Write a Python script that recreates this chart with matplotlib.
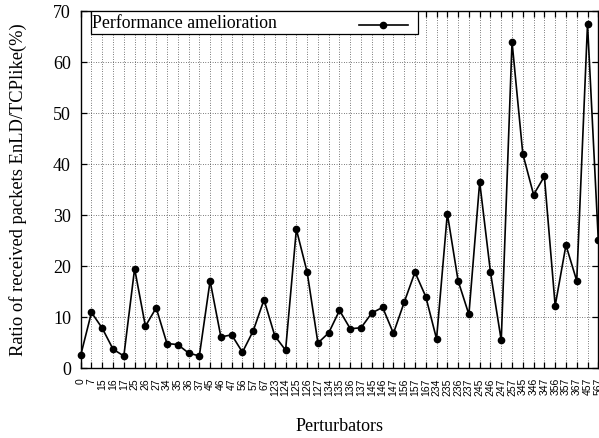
import matplotlib
matplotlib.use("Agg")
import matplotlib.pyplot as plt
from matplotlib.patches import Rectangle
from matplotlib.lines import Line2D

# Perturbator sets (node combinations) and the measured ratio per set
perturbators = ["0", "7", "15", "16", "17", "25", "26", "27", "34", "35", "36", "37",
                "45", "46", "47", "56", "57", "67", "123", "124", "125", "126", "127",
                "134", "135", "136", "137", "145", "146", "147", "156", "157", "167",
                "234", "235", "236", "237", "245", "246", "247", "257", "345", "346",
                "347", "356", "357", "367", "457", "567"]
ratio = [2.4, 10.8, 7.7, 3.6, 2.25, 19.4, 8.1, 11.7, 4.7, 4.5, 2.85, 2.25,
         17.0, 6.0, 6.4, 3.0, 7.2, 13.3, 6.2, 3.4, 27.1, 18.7, 4.8,
         6.8, 11.2, 7.6, 7.8, 10.7, 11.8, 6.7, 12.8, 18.7, 13.9,
         5.6, 30.2, 17.0, 10.4, 36.4, 18.7, 5.3, 63.9, 41.9, 33.9,
         37.5, 12.1, 24.0, 17.0, 67.4, 25.0]
y_ticks = [0, 10, 20, 30, 40, 50, 60, 70]
series_name = "Performance amelioration"

serif = ["Liberation Serif", "DejaVu Serif"]
sans = ["Liberation Sans", "DejaVu Sans"]

fig = plt.figure(figsize=(5.99, 4.39), dpi=100)
ax = fig.add_axes([80.7 / 599, 1 - 368.5 / 439, (598.3 - 80.7) / 599, (368.5 - 11.7) / 439])

x = list(range(len(perturbators)))
ax.plot(x, ratio, color="black", linewidth=1.2, marker="o", markersize=4.5, zorder=3,
        clip_on=False)

ax.set_xlim(0, len(perturbators) - 1)
ax.set_ylim(0, 70)
ax.set_xticks(x)
ax.set_xticklabels(perturbators, rotation=90, fontsize=7.5, family=sans)
ax.set_yticks(y_ticks)
ax.set_yticklabels([str(v) for v in y_ticks], fontsize=13, family=serif)

ax.tick_params(axis="both", direction="in", length=4.5, width=0.9,
               top=True, right=True, color="black")
ax.tick_params(axis="x", pad=7)
ax.tick_params(axis="y", pad=7)

ax.grid(True, color="black", linestyle=(0, (1, 2.5)), linewidth=0.5)
ax.set_axisbelow(True)
for s in ax.spines.values():
    s.set_linewidth(1.0)

ax.set_xlabel("Perturbators", fontsize=13, family=serif, labelpad=16)
ax.set_ylabel("Ratio of received packets EnLD/TCPlike(%)", fontsize=13.3,
              family=serif, labelpad=19)

# Key box in the upper-left corner: text first, then the line sample
ax.add_patch(Rectangle((0.0199, 0.935), 0.652 - 0.0199, 1.0 - 0.935,
                       transform=ax.transAxes, facecolor="white",
                       edgecolor="black", linewidth=0.9, zorder=4))
ax.text(0.022, 0.966, series_name, transform=ax.transAxes, fontsize=12.8,
        family=serif, va="center", ha="left", zorder=5)
ax.add_line(Line2D([0.5378, 0.6325], [0.961, 0.961], transform=ax.transAxes,
                   color="black", linewidth=1.2, zorder=5))
ax.add_line(Line2D([0.585], [0.961], transform=ax.transAxes, color="black",
                   marker="o", markersize=4.5, zorder=5))

fig.savefig("out.png", dpi=100)
